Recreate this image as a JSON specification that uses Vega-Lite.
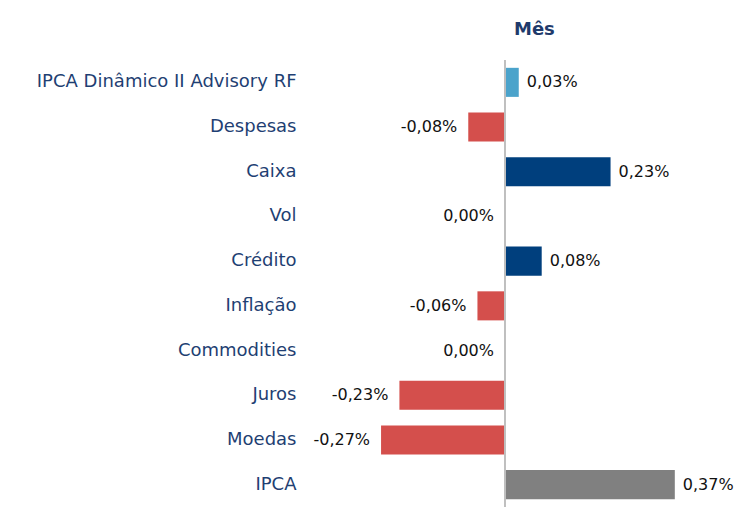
{
  "$schema": "https://vega.github.io/schema/vega-lite/v6.json",
  "autosize": "none",
  "width": 431,
  "height": 447,
  "padding": {"left": 305, "top": 60, "right": 0, "bottom": 2},
  "background": "white",
  "config": {
    "view": {"stroke": null},
    "font": "DejaVu Sans",
    "locale": {"number": {"decimal": ",", "thousands": ".", "grouping": [3], "currency": ["R$", ""], "minus": "-"}}
  },
  "title": {
    "text": "Mês",
    "anchor": "start",
    "frame": "group",
    "dx": 209,
    "offset": 21,
    "font": "DejaVu Sans",
    "fontSize": 18,
    "fontWeight": "bold",
    "color": "#1F3A6B"
  },
  "data": {
    "values": [
      {"categoria": "IPCA Dinâmico II Advisory RF", "valor": 0.0003, "tipo": "fundo"},
      {"categoria": "Despesas", "valor": -0.0008, "tipo": "negativo"},
      {"categoria": "Caixa", "valor": 0.0023, "tipo": "positivo"},
      {"categoria": "Vol", "valor": 0.0, "tipo": "positivo"},
      {"categoria": "Crédito", "valor": 0.0008, "tipo": "positivo"},
      {"categoria": "Inflação", "valor": -0.0006, "tipo": "negativo"},
      {"categoria": "Commodities", "valor": 0.0, "tipo": "positivo"},
      {"categoria": "Juros", "valor": -0.0023, "tipo": "negativo"},
      {"categoria": "Moedas", "valor": -0.0027, "tipo": "negativo"},
      {"categoria": "IPCA", "valor": 0.0037, "tipo": "benchmark"}
    ]
  },
  "encoding": {
    "y": {
      "field": "categoria",
      "type": "nominal",
      "sort": null,
      "scale": {"paddingInner": 0.35, "paddingOuter": 0.175},
      "axis": {
        "title": null,
        "domain": false,
        "ticks": false,
        "labelPadding": 9,
        "labelFontSize": 18,
        "labelColor": "#1F3F73",
        "labelFont": "DejaVu Sans",
        "labelLimit": 400
      }
    },
    "x": {
      "field": "valor",
      "type": "quantitative",
      "scale": {"domain": [-0.004357, 0.005033], "nice": false, "zero": false},
      "axis": null
    }
  },
  "layer": [
    {
      "mark": {"type": "bar"},
      "encoding": {
        "color": {
          "field": "tipo",
          "type": "nominal",
          "scale": {
            "domain": ["fundo", "negativo", "positivo", "benchmark"],
            "range": ["#4BA3CB", "#D44F4C", "#003F7D", "#808080"]
          },
          "legend": null
        }
      }
    },
    {
      "mark": {"type": "rule", "color": "#BFBFBF", "strokeWidth": 1},
      "encoding": {"x": {"datum": 0, "type": "quantitative"}, "y": null}
    },
    {
      "transform": [{"filter": "datum.valor > 0"}],
      "mark": {"type": "text", "align": "left", "dx": 8, "fontSize": 16, "color": "#111111", "font": "DejaVu Sans"},
      "encoding": {"text": {"field": "valor", "type": "quantitative", "format": ".2%"}}
    },
    {
      "transform": [{"filter": "datum.valor <= 0"}],
      "mark": {"type": "text", "align": "right", "dx": -11, "fontSize": 16, "color": "#111111", "font": "DejaVu Sans"},
      "encoding": {"text": {"field": "valor", "type": "quantitative", "format": ".2%"}}
    }
  ]
}
